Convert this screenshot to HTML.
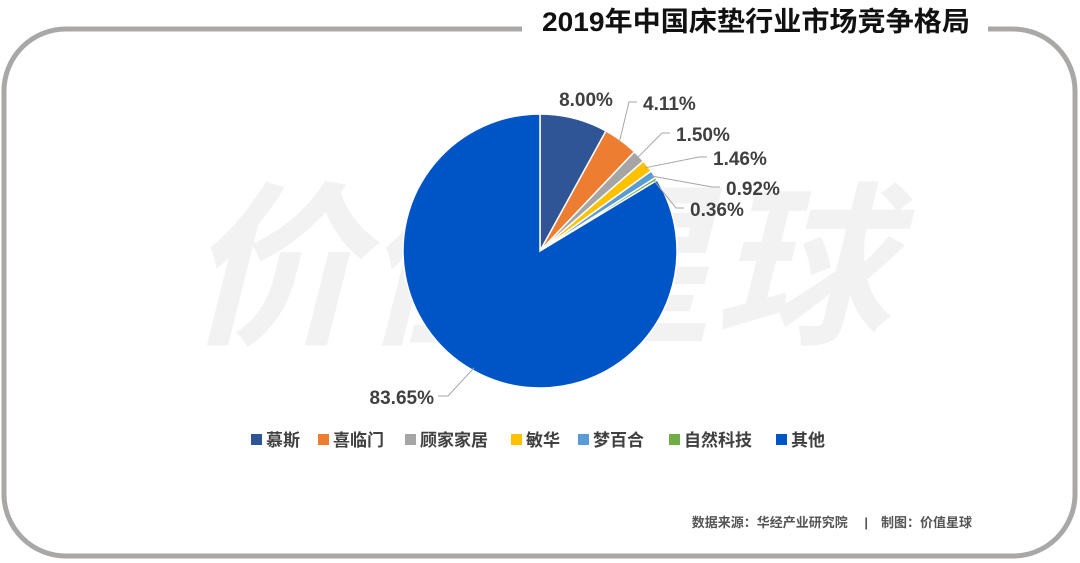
<!DOCTYPE html>
<html><head><meta charset="utf-8">
<style>
html,body{margin:0;padding:0;background:#fff;}
body{width:1080px;height:563px;overflow:hidden;position:relative;font-family:"Liberation Sans","Noto Sans CJK SC",sans-serif;}
svg{position:absolute;left:0;top:0;}
</style></head>
<body>
<svg id="chart" width="1080" height="563">
  <rect x="4" y="29" width="1071" height="527" rx="62" ry="62" fill="none" stroke="#aaa7a7" stroke-width="5"/>
  <rect x="522" y="18" width="466" height="22" fill="#fff"/>
  <text x="756" y="31" text-anchor="middle" font-size="27" font-weight="bold" fill="#111" font-family="Liberation Sans, Noto Sans CJK SC, sans-serif" textLength="428" lengthAdjust="spacingAndGlyphs">2019年中国床垫行业市场竞争格局</text>
  <text x="538" y="330" text-anchor="middle" font-size="175" font-weight="bold" fill="#f2f2f2" font-style="italic" font-family="Noto Sans CJK SC, sans-serif" textLength="705" lengthAdjust="spacingAndGlyphs">价值星球</text>
  <g id="slices"></g>
  <g id="labels"></g>
  <g id="legend"></g>
  <text x="972" y="527" text-anchor="end" font-size="13" font-weight="bold" fill="#555">数据来源：华经产业研究院　 |　制图：价值星球</text>
</svg>
<script>
const categories = ["慕斯","喜临门","顾家家居","敏华","梦百合","自然科技","其他"];
const values = [8.00,4.11,1.50,1.46,0.92,0.36,83.65];
const labels = ["8.00%","4.11%","1.50%","1.46%","0.92%","0.36%","83.65%"];
const colors = ["#2f5597","#ed7d31","#a5a5a5","#ffc000","#5b9bd5","#70ad47","#0055c6"];
const labelPos = [[586,106,"middle"],[643,110,"start"],[676,141,"start"],[713,165,"start"],[726,195,"start"],[690,216,"start"],[434,404,"end"]];
const NS="http://www.w3.org/2000/svg";
const cx=540,cy=251,r=137;
const total=values.reduce((a,b)=>a+b,0);
const slices=document.getElementById('slices'),lab=document.getElementById('labels'),leg=document.getElementById('legend');
function pt(a,rr){return [cx+rr*Math.sin(a),cy-rr*Math.cos(a)];}
let acc=0;
values.forEach((v,i)=>{
  const a0=acc/total*2*Math.PI; acc+=v; const a1=acc/total*2*Math.PI;
  const p0=pt(a0,r),p1=pt(a1,r);
  const p=document.createElementNS(NS,'path');
  p.setAttribute('d',`M${cx},${cy}L${p0[0]},${p0[1]}A${r},${r} 0 ${a1-a0>Math.PI?1:0} 1 ${p1[0]},${p1[1]}Z`);
  p.setAttribute('fill',colors[i]);p.setAttribute('stroke','#fff');p.setAttribute('stroke-width','1.5');
  
  
  slices.appendChild(p);
  const am=(a0+a1)/2, lp=labelPos[i];
  if(i>0){
    const e=pt(am,r-3);
    const lx=lp[2]==="end"?lp[0]+4:lp[0]-6, ly=lp[1]-8;
    const ln=document.createElementNS(NS,'polyline');
    ln.setAttribute('points',`${e[0]},${e[1]} ${lx+(lp[2]==="end"?10:-8)},${ly} ${lx},${ly}`);
    ln.setAttribute('fill','none');ln.setAttribute('stroke','#a6a6a6');ln.setAttribute('stroke-width','1');
    
    
    lab.appendChild(ln);
  }
  const t=document.createElementNS(NS,'text');
  t.setAttribute('x',lp[0]);t.setAttribute('y',lp[1]);t.setAttribute('text-anchor',lp[2]);
  t.setAttribute('font-size','19');t.setAttribute('font-weight','bold');t.setAttribute('fill','#404040');
  t.textContent=labels[i];
  
  
  lab.appendChild(t);
});
const legX=[251,318,405,511,578,669,776];
categories.forEach((c,i)=>{
  const g=document.createElementNS(NS,'g');
  
  
  const s=document.createElementNS(NS,'rect');
  s.setAttribute('x',legX[i]);s.setAttribute('y',434);s.setAttribute('width',11);s.setAttribute('height',11);s.setAttribute('fill',colors[i]);
  const t=document.createElementNS(NS,'text');
  t.setAttribute('x',legX[i]+15);t.setAttribute('y',446);t.setAttribute('font-size','17');t.setAttribute('font-weight','bold');t.setAttribute('fill','#404040');
  t.textContent=c;
  g.appendChild(s);g.appendChild(t);leg.appendChild(g);
});
</script>
</body></html>
